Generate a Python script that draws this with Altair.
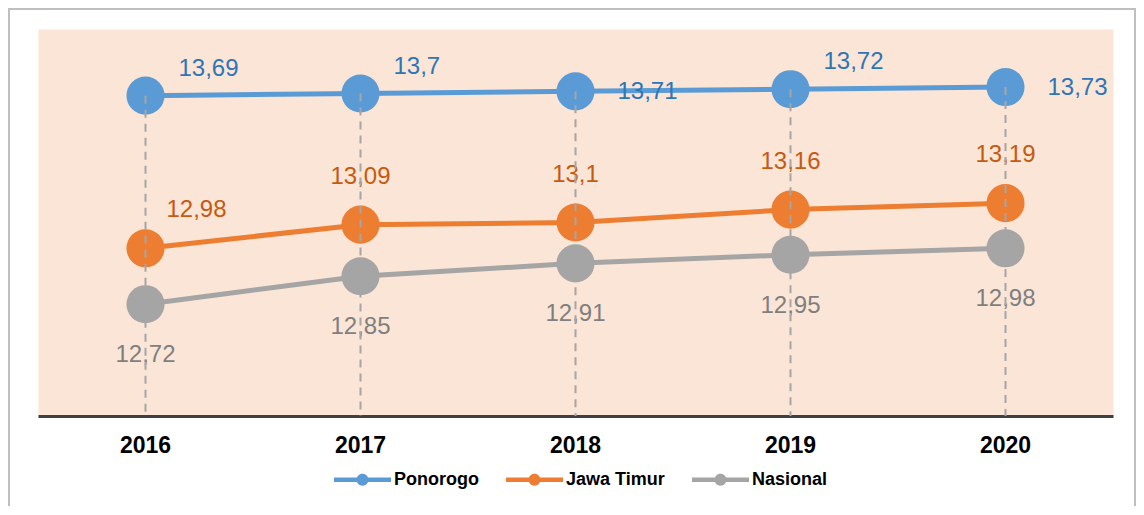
import altair as alt
import pandas as pd

years = ["2016", "2017", "2018", "2019", "2020"]
series_names = ["Ponorogo", "Jawa Timur", "Nasional"]
ponorogo = [13.69, 13.70, 13.71, 13.72, 13.73]
jawa_timur = [12.98, 13.09, 13.10, 13.16, 13.19]
nasional = [12.72, 12.85, 12.91, 12.95, 12.98]

line_colors = ["#5B9BD5", "#ED7D31", "#A5A5A5"]
label_colors = ["#2E75B6", "#C55A11", "#7F7F7F"]

# label placement per point (layout only)
label_place = {
    "Ponorogo": ["ur", "ur", "r", "ur", "r"],
    "Jawa Timur": ["ur2", "a", "a", "a", "a"],
    "Nasional": ["b", "b", "b", "b", "b"],
}
placements = {
    "ur": dict(align="left", dx=33, dy=-27),
    "r": dict(align="left", dx=42, dy=1),
    "ur2": dict(align="left", dx=21, dy=-38),
    "a": dict(align="center", dx=0, dy=-48),
    "b": dict(align="center", dx=0, dy=51),
}

rows = []
for name, vals in zip(series_names, [ponorogo, jawa_timur, nasional]):
    for y, v, p in zip(years, vals, label_place[name]):
        rows.append({"year": y, "series": name, "value": v, "place": p})
df = pd.DataFrame(rows)

W, H = 1075, 387
FONT = "Liberation Sans"

x_enc = alt.X("year:N", sort=years,
              scale=alt.Scale(paddingInner=0, paddingOuter=0),
              axis=alt.Axis(title=None, labelAngle=0, ticks=False, grid=False,
                            domainColor="#404040", domainWidth=3,
                            labelFont=FONT, labelFontSize=23, labelFontWeight="bold",
                            labelColor="#000000", labelPadding=18))
y_scale = alt.Scale(domain=[12.2, 14.0], nice=False, zero=False)
y_enc = alt.Y("value:Q", scale=y_scale, axis=None)

base = alt.Chart(df).encode(x=x_enc, y=y_enc)

legend_path = ("M-1,-0.075L1,-0.075L1,0.075L-1,0.075Z "
               "M-0.21,0A0.21,0.21 0 1,1 0.21,0A0.21,0.21 0 1,1 -0.21,0Z")

layers = []
for name, lc in zip(series_names, line_colors):
    layers.append(base.transform_filter(alt.datum.series == name)
                  .mark_line(strokeWidth=5, color=lc))

points = base.mark_point(filled=True, size=1450, opacity=1).encode(
    color=alt.Color("series:N", scale=alt.Scale(domain=series_names, range=line_colors),
                    legend=alt.Legend(title=None, orient="none", legendX=296, legendY=422,
                                      direction="horizontal", symbolType=legend_path,
                                      symbolSize=3249, symbolStrokeWidth=0,
                                      labelFont="Liberation Sans", labelFontSize=18,
                                      labelFontWeight="bold", labelColor="#000000",
                                      columnPadding=27, labelOffset=3, padding=0,
                                      labelLimit=300)),
)
layers.append(points)

for name, tc in zip(series_names, label_colors):
    for key in sorted(set(label_place[name])):
        p = placements[key]
        t = base.transform_filter(
            (alt.datum.series == name) & (alt.datum.place == key)
        ).transform_calculate(
            label="replace(toString(datum.value), '.', ',')"
        ).mark_text(font=FONT, fontSize=24, baseline="middle", color=tc, **p).encode(
            text="label:N",
        )
        layers.append(t)

drop_df = pd.DataFrame({"year": years, "value": ponorogo})
drops = alt.Chart(drop_df).mark_rule(color="#A6A6A6", strokeWidth=2, strokeDash=[8, 6]).encode(
    x=alt.X("year:N", sort=years), y=alt.Y("value:Q", scale=y_scale), y2=alt.value(H)
)
layers.append(drops)

border = alt.Chart(pd.DataFrame({"a": [0]})).mark_rect(
    fillOpacity=0, stroke="#BFBFBF", strokeWidth=2, clip=False
).encode(x=alt.value(-29), x2=alt.value(1097), y=alt.value(-20), y2=alt.value(520))

chart = alt.layer(border, *layers).properties(
    width=W, height=H,
    padding={"left": 30, "top": 21, "right": 23, "bottom": 90},
    autosize=alt.AutoSizeParams(type="none"),
).configure_view(fill="#FBE5D6", stroke="transparent")

chart.save("out.html", embed_options={"renderer": "svg", "actions": False})
